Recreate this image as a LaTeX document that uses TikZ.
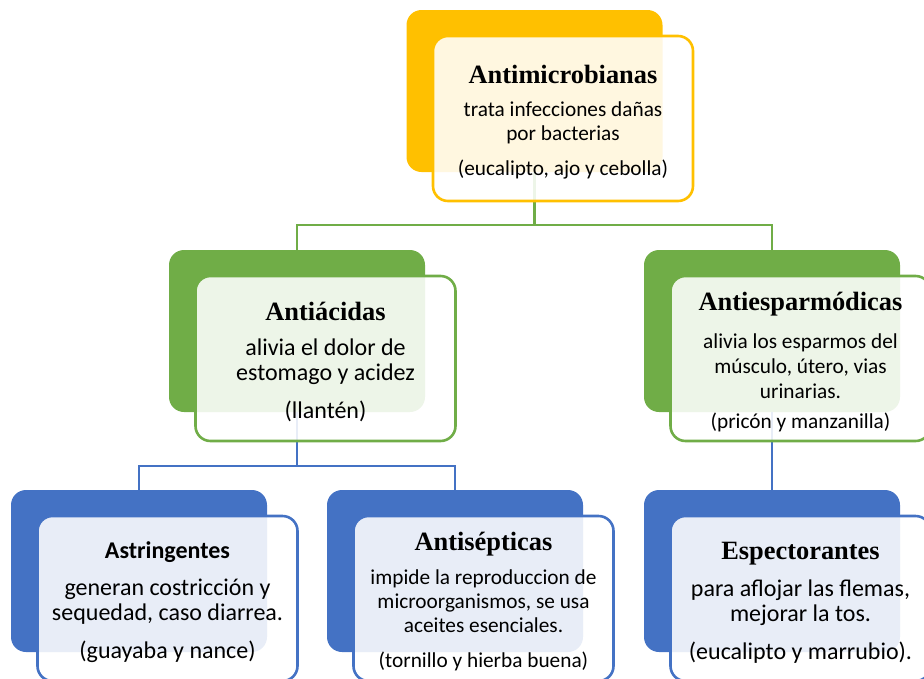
\documentclass[tikz,border=0pt]{standalone}
\usepackage{fontspec}
\setmainfont{Carlito}
\newfontfamily\serifbold{Liberation Serif}
\usepackage{tikz}
\usetikzlibrary{positioning,backgrounds,calc}
\definecolor{cyellow}{HTML}{FFC000}
\definecolor{cgreen}{HTML}{70AD47}
\definecolor{cblue}{HTML}{4472C4}
\newcommand{\boxtitle}[1]{\rule{0pt}{29pt}{\serifbold\bfseries\fontsize{26.4}{30}\selectfont #1}}

\begin{document}
\begin{tikzpicture}[x=1pt, y=-1pt,
   back/.style={fill=#1, rounded corners=15pt, minimum width=256pt, minimum height=162pt, inner sep=0pt},
   front/.style={draw=#1, line width=2.6pt, fill=white, fill opacity=.88, text opacity=1,
      rounded corners=15pt, minimum width=260pt, minimum height=165pt, inner sep=0pt,
      shift={(28.5,27.5)}},
   small/.style={font=\fontsize{21.3}{24}\selectfont},
   large/.style={font=\fontsize{24}{25}\selectfont},
   link/.style={draw=#1, line width=2.4pt}]
   \clip (0,0) rectangle (924,678);
   % back boxes
   \node[back=cyellow] (t1b) at (534.5, 91) {};
   \node[back=cgreen] (t2b) at (297, 331) {};
   \node[back=cgreen] (t3b) at (772, 331) {};
   \node[back=cblue] (t4b) at (139, 571) {};
   \node[back=cblue] (t5b) at (455, 571) {};
   \node[back=cblue] (t6b) at (772, 571) {};
   % connectors
   \coordinate (j1) at (534.5, 225);
   \coordinate (j2) at (297, 466);
   \draw[link=cgreen] (t1b.south) -- (j1) -| (t2b.north);
   \draw[link=cgreen] (j1) -| (t3b.north);
   \draw[link=cblue] (t2b.south) -- (j2) -| (t4b.north);
   \draw[link=cblue] (j2) -| (t5b.north);
   \draw[link=cblue] (t3b.south) -- (t6b.north);
   % front boxes
   \node[front=cyellow, small] (t1) at (t1b) {\begin{tabular}{@{}c@{}} \boxtitle{Antimicrobianas} \\[9pt] trata infecciones dañas \\ por bacterias \\[11pt] (eucalipto, ajo y cebolla) \end{tabular}};
   \node[front=cgreen, large] (t2) at (t2b) {\begin{tabular}{@{}c@{}} \boxtitle{Antiácidas} \\[10pt] alivia el dolor de \\ estomago y acidez \\[13pt] (llantén) \end{tabular}};
   \node[front=cgreen, small] (t3) at (t3b) {\begin{tabular}{@{}c@{}} \boxtitle{Antiesparmódicas} \\[14pt] alivia los esparmos del \\[1pt] músculo, útero, vias \\[1pt] urinarias. \\[6pt] (pricón y manzanilla) \end{tabular}};
   \node[front=cblue, large] (t4) at (t4b) {\begin{tabular}{@{}c@{}} \rule{0pt}{28pt}\textbf{Astringentes} \\[12pt] generan costricción y \\ sequedad, caso diarrea. \\[13pt] (guayaba y nance) \end{tabular}};
   \node[front=cblue, small] (t5) at (t5b) {\begin{tabular}{@{}c@{}} \boxtitle{Antisépticas} \\[10pt] impide la reproduccion de \\ microorganismos, se usa \\ aceites esenciales. \\[11pt] (tornillo y hierba buena) \end{tabular}};
   \node[front=cblue, large] (t6) at (t6b) {\begin{tabular}{@{}c@{}} \boxtitle{Espectorantes} \\[12pt] para aflojar las flemas, \\ mejorar la tos. \\[13pt] (eucalipto y marrubio). \end{tabular}};
\end{tikzpicture}
\end{document}
